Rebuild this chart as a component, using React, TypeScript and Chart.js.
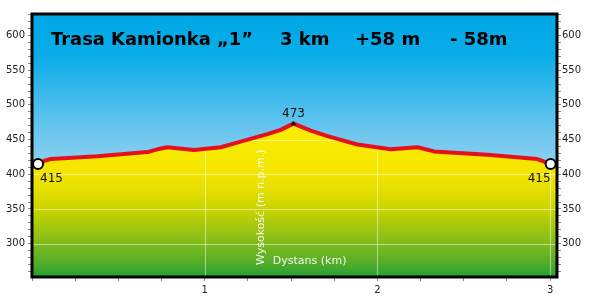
import React, { useEffect, useRef } from 'react';
import { Chart, registerables } from 'chart.js';

Chart.register(...registerables);

// ---- data ----
const distanceKm = [0.035, 0.079, 0.108, 0.379, 0.668, 0.726, 0.784, 0.938, 1.093, 1.208, 1.363, 1.44, 1.514, 1.614, 1.711, 1.884, 2.077, 2.232, 2.328, 2.637, 2.926, 3.003];
const elevationM = [415, 420, 422, 426, 432, 436, 439, 435, 439, 447, 458, 464, 473, 463, 455, 443, 436, 439, 433, 428, 422, 415];
const titleParts = ['Trasa Kamionka „1”', '3 km', '+58 m', '- 58m'];
const yAxisTitle = 'Wysokość (m n.p.m.)';
const xAxisTitle = 'Dystans (km)';
const yLabelTicks = [300, 350, 400, 450, 500, 550, 600];
const xLabelTicks = [1, 2, 3];
const yMin = 252;
const yMax = 631;
const xMin = 0;
const xMax = 3.04;
const yMinorStep = 10;
const xMinorStep = 0.25;

const FONT = '"DejaVu Sans", Verdana, sans-serif';

const peakIndex = elevationM.indexOf(Math.max(...elevationM));
const lastIndex = elevationM.length - 1;

function yTickList() {
  const out: { value: number }[] = [];
  for (let v = Math.ceil(yMin / yMinorStep) * yMinorStep; v <= yMax; v += yMinorStep) out.push({ value: v });
  return out;
}
function xTickList() {
  const out: { value: number }[] = [];
  for (let i = 0; i * xMinorStep <= xMax + 1e-9; i++) out.push({ value: +(i * xMinorStep).toFixed(4) });
  return out;
}

const profilePlugin = {
  id: 'profilePlugin',
  beforeDatasetsDraw(chart: any) {
    const { ctx, chartArea: a } = chart;
    const g = ctx.createLinearGradient(0, a.top, 0, a.bottom);
    g.addColorStop(0, '#00a8e6');
    g.addColorStop(0.15, '#08ace8');
    g.addColorStop(0.45, '#6cc6ee');
    g.addColorStop(0.6, '#92d4f2');
    g.addColorStop(1, '#b8e4f8');
    ctx.save();
    ctx.fillStyle = g;
    ctx.fillRect(a.left, a.top, a.width, a.height);
    ctx.restore();
  },
  afterDatasetDraw(chart: any, args: any) {
    if (args.index !== 1) return;
    const { ctx, chartArea: a, scales } = chart;
    const pts = args.meta.data;
    ctx.save();
    ctx.beginPath();
    ctx.moveTo(pts[0].x, a.bottom);
    for (const p of pts) ctx.lineTo(p.x, p.y);
    ctx.lineTo(pts[pts.length - 1].x, a.bottom);
    ctx.closePath();
    ctx.clip();
    ctx.strokeStyle = 'rgba(255,255,255,0.5)';
    ctx.lineWidth = 1;
    for (const v of yLabelTicks) {
      const y = Math.round(scales.y.getPixelForValue(v)) + 0.5;
      ctx.beginPath();
      ctx.moveTo(a.left, y);
      ctx.lineTo(a.right, y);
      ctx.stroke();
    }
    for (const v of xLabelTicks) {
      const x = Math.round(scales.x.getPixelForValue(v)) + 0.5;
      ctx.beginPath();
      ctx.moveTo(x, a.top);
      ctx.lineTo(x, a.bottom);
      ctx.stroke();
    }
    ctx.restore();
  },
  afterDatasetsDraw(chart: any) {
    const { ctx, chartArea: a } = chart;
    const meta = chart.getDatasetMeta(0);
    ctx.save();
    // point labels
    ctx.fillStyle = '#111';
    ctx.font = `12px ${FONT}`;
    ctx.textBaseline = 'middle';
    const p0 = meta.data[0];
    ctx.textAlign = 'left';
    ctx.fillText(String(elevationM[0]), p0.x + 2, p0.y + 15);
    const pl = meta.data[lastIndex];
    ctx.textAlign = 'right';
    ctx.fillText(String(elevationM[lastIndex]), pl.x, pl.y + 15);
    const pp = meta.data[peakIndex];
    ctx.textAlign = 'center';
    ctx.fillText(String(elevationM[peakIndex]), pp.x, pp.y - 10);

    // axis titles inside plot
    ctx.fillStyle = 'rgba(255,255,255,0.92)';
    ctx.font = `11px ${FONT}`;
    ctx.textAlign = 'left';
    ctx.textBaseline = 'middle';
    ctx.fillText(xAxisTitle, a.left + 0.4587 * a.width, a.bottom - 16);
    ctx.save();
    ctx.translate(a.left + 0.437 * a.width, a.bottom - 12);
    ctx.rotate(-Math.PI / 2);
    ctx.fillText(yAxisTitle, 0, 0);
    ctx.restore();

    // title
    ctx.fillStyle = '#000';
    ctx.font = `bold 18px ${FONT}`;
    ctx.textAlign = 'left';
    ctx.textBaseline = 'alphabetic';
    const xs = [51, 280, 355, 450];
    titleParts.forEach((t, i) => ctx.fillText(t, xs[i], 45, i === 0 ? 202 : undefined as any));
    ctx.restore();
  },
  afterDraw(chart: any) {
    const { ctx, chartArea: a } = chart;
    ctx.save();
    ctx.strokeStyle = '#000';
    ctx.lineWidth = 3;
    ctx.strokeRect(a.left, a.top, a.width, a.height);
    ctx.restore();
  },
};

export default function App() {
  const ref = useRef<HTMLCanvasElement | null>(null);
  useEffect(() => {
    if (!ref.current) return;
    const points = distanceKm.map((x, i) => ({ x, y: elevationM[i] }));
    const fillPoints = [{ x: xMin, y: elevationM[0] }, ...points, { x: xMax, y: elevationM[lastIndex] }];
    const chart = new Chart(ref.current, {
      type: 'line',
      data: {
        datasets: [
          {
            data: points,
            borderColor: '#e5101c',
            borderWidth: 4,
            fill: false,
            tension: 0,
            borderJoinStyle: 'round',
            order: 0,
            pointRadius: (c: any) => (c.dataIndex === peakIndex ? 2.5 : c.dataIndex === 0 || c.dataIndex === lastIndex ? 5 : 0),
            pointStyle: (c: any) => (c.dataIndex === peakIndex ? 'triangle' : 'circle'),
            pointBackgroundColor: (c: any) => (c.dataIndex === peakIndex ? '#000' : '#fff'),
            pointBorderColor: '#000',
            pointBorderWidth: (c: any) => (c.dataIndex === peakIndex ? 0.5 : 2),
            pointHoverRadius: 0,
          } as any,
          {
            data: fillPoints,
            borderWidth: 0,
            pointRadius: 0,
            fill: 'start',
            tension: 0,
            order: 1,
            backgroundColor: (c: any) => {
              const { chart } = c;
              const a = chart.chartArea;
              if (!a) return '#f0e600';
              const top = chart.scales.y.getPixelForValue(Math.max(...elevationM));
              const g = chart.ctx.createLinearGradient(0, top, 0, a.bottom);
              g.addColorStop(0, '#fbee00');
              g.addColorStop(0.3, '#f5e600');
              g.addColorStop(0.43, '#e6df00');
              g.addColorStop(0.56, '#c8d400');
              g.addColorStop(0.77, '#84bc1c');
              g.addColorStop(0.9, '#58ae28');
              g.addColorStop(1, '#22a035');
              return g;
            },
          } as any,
        ],
      },
      options: {
        responsive: false,
        maintainAspectRatio: false,
        animation: false,
        devicePixelRatio: 1,
        events: [],
        layout: { padding: { top: 14, left: 0, right: 0, bottom: 0 } },
        plugins: { legend: { display: false }, tooltip: { enabled: false } },
        scales: {
          x: {
            type: 'linear',
            min: xMin,
            max: xMax,
            afterBuildTicks: (s: any) => { s.ticks = xTickList(); },
            afterFit: (s: any) => { s.height = 20; },
            border: { display: false },
            grid: { drawOnChartArea: false, tickLength: 4, tickColor: '#888' },
            ticks: {
              autoSkip: false,
              maxRotation: 0,
              padding: 3,
              color: '#222',
              font: { family: FONT, size: 10 },
              callback: (v: any) => (xLabelTicks.includes(Number(v)) ? String(v) : ''),
            },
          },
          y: {
            type: 'linear',
            position: 'left',
            min: yMin,
            max: yMax,
            afterBuildTicks: (s: any) => { s.ticks = yTickList(); },
            afterFit: (s: any) => { s.width = 32; },
            border: { display: false },
            grid: { drawOnChartArea: false, tickLength: 4, tickColor: '#888' },
            ticks: {
              autoSkip: false,
              padding: 3,
              color: '#222',
              font: { family: FONT, size: 10 },
              callback: (v: any) => (yLabelTicks.includes(Number(v)) ? String(v) : ''),
            },
          },
          y2: {
            type: 'linear',
            position: 'right',
            min: yMin,
            max: yMax,
            afterBuildTicks: (s: any) => { s.ticks = yTickList(); },
            afterFit: (s: any) => { s.width = 33; },
            border: { display: false },
            grid: { drawOnChartArea: false, tickLength: 4, tickColor: '#888' },
            ticks: {
              autoSkip: false,
              padding: 1,
              color: '#222',
              font: { family: FONT, size: 10 },
              callback: (v: any) => (yLabelTicks.includes(Number(v)) ? String(v) : ''),
            },
          },
        },
      },
      plugins: [profilePlugin],
    } as any);
    return () => chart.destroy();
  }, []);
  return (
    <div style={{ position: 'fixed', left: 0, top: 0, width: 590, height: 297, background: '#fff' }}>
      <canvas ref={ref} width={590} height={297} style={{ display: 'block', width: 590, height: 297 }} />
    </div>
  );
}
